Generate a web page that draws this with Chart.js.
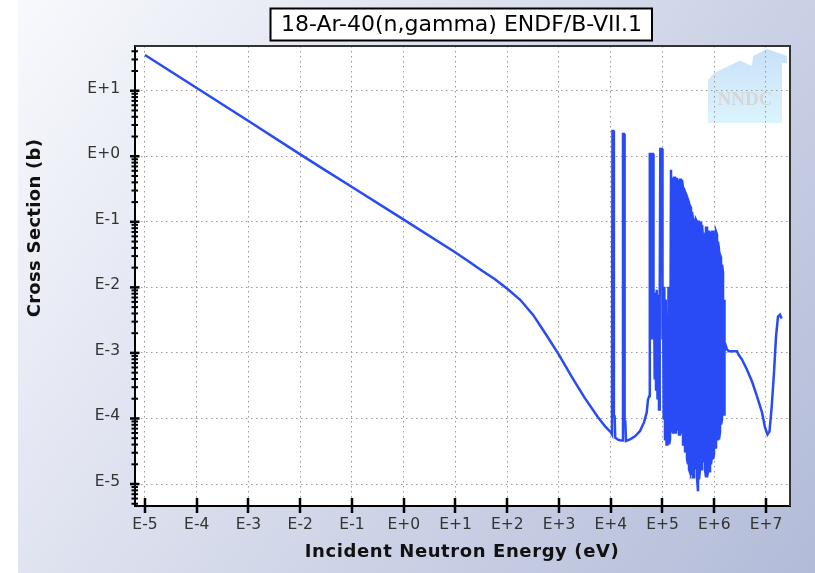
<!DOCTYPE html>
<html><head><meta charset="utf-8">
<script src="https://cdn.jsdelivr.net/npm/chart.js@4.4.1/dist/chart.umd.min.js"></script>
<style>html,body{margin:0;padding:0;background:#fff;overflow:hidden}#wrap{width:815px;height:573px}</style>
</head><body><div id="wrap"><canvas id="c" width="815" height="573"></canvas></div>
<script>
// Low-energy part: 1/v region, smooth fall-off and first resolved resonances (eV, b)
const energyEV = [
 1e-5, 1e-4, 1e-3, 1e-2, 2.53e-2, 1e-1, 1, 10, 17.8, 31.6, 56.2, 100, 178, 316, 562, 1000, 1778, 3162, 5623, 7943, 10000, 10570,
 10800, 11250, 11500, 11900, 12200, 13810, 15100, 16870, 17250, 18040, 18530, 19110, 19730, 23550, 29430, 36770, 43940, 49530, 52480,
 55600, 56850, 59980, 61330, 62700, 65550, 67030, 68550, 70720, 72640, 74930, 77300, 80100, 83000, 85620, 88330, 90720, 97860, 100070,
 102330, 105560, 108420, 111840, 115380, 119560, 125000, 130710, 134850, 139740, 146080, 149370, 154780
];
const crossSectionB = [
 35, 11, 3.45, 1.07, 0.67, 0.34, 0.108, 0.034, 0.0251, 0.0182, 0.0135, 0.00955, 0.00646, 0.0038, 0.00191, 9.33e-4, 4.27e-4, 2.04e-4, 1.05e-4, 7.41e-5, 6.17e-5, 5.7e-5,
 2.43, 2.43, 1.07e-4, 1.07e-4, 5.1e-5, 4.75e-5, 4.65e-5, 4.6e-5, 2.19, 2.19, 9.0e-5, 9.0e-5, 4.55e-5, 4.8e-5, 5.33e-5, 6.42e-5, 8.7e-5, 1.236e-4, 1.95e-4,
 2.2e-4, 1.087, 1.087, 0.0016, 1.087, 1.087, 0.0016, 0.0083, 3.93e-4, 0.0083, 2.77e-4, 0.0092, 1.95e-4, 0.0077, 1.37e-4, 0.0065, 1.295, 1.295, 0.0016,
 0.01025, 9.67e-5, 0.01025, 4.8e-5, 0.0065, 4.02e-5, 4.02e-5, 0.01025, 4.02e-5, 4.8e-5, 0.62, 0.62, 6.13e-5
];
// Unresolved dense resonance band: per-energy envelope maximum / minimum (eV, b)
const denseEnergyEV = [
 159600, 166870, 174470, 182410, 190710, 199390, 208470, 217960, 227880, 238250, 249100, 260440, 272290, 284690, 297650, 311200,
 325360, 340170, 355660, 371850, 388780, 406480, 424980, 444330, 464550, 485700, 507810, 530930, 555100, 580370, 606790, 634410,
 663290, 693480, 725050, 758060, 792570, 828640, 866360, 905800, 947030, 990140, 1035210, 1082330, 1131600, 1183110, 1236970,
 1293280, 1352150, 1413700, 1478050, 1545330
];
const denseMaxB = [
 0.4685, 0.4685, 0.4685, 0.393, 0.4685, 0.4367, 0.366, 0.4367, 0.4367, 0.4367, 0.330, 0.3075, 0.2768, 0.258, 0.2323, 0.2166,
 0.195, 0.1755, 0.1636, 0.1422, 0.1074, 0.1074, 0.1074, 0.1074, 0.1001, 0.1001, 0.1001, 0.0811, 0.1001, 0.0901, 0.0571, 0.0571,
 0.0635, 0.0811, 0.0811, 0.0705, 0.0705, 0.0447, 0.0705, 0.0705, 0.0705, 0.0705, 0.0705, 0.0705, 0.0635, 0.0497, 0.0375,
 0.0315, 0.02834, 0.02217, 0.01675, 0.0065
];
const denseMinB = [
 6.13e-5, 6.13e-5, 6.13e-5, 6.13e-5, 6.81e-5, 6.81e-5, 5.71e-5, 5.71e-5, 6.13e-5, 6.13e-5, 4.02e-5, 4.02e-5, 3.15e-5, 3.15e-5, 2.38e-5, 2.0e-5,
 1.675e-5, 1.508e-5, 1.508e-5, 1.675e-5, 1.265e-5, 1.265e-5, 2.0e-5, 1.675e-5, 1.265e-5, 7.74e-6, 1.18e-5, 1.675e-5, 1.675e-5, 1.675e-5, 2.22e-5, 2.22e-5,
 1.675e-5, 1.265e-5, 1.265e-5, 1.561e-5, 1.561e-5, 1.561e-5, 2.0e-5, 2.83e-5, 2.38e-5, 2.83e-5, 3.62e-5, 3.62e-5, 4.8e-5, 4.8e-5, 4.8e-5,
 6.35e-5, 8.11e-5, 9.67e-5, 1.152e-4, 1.152e-4
];
// High-energy smooth part (eV, b)
const highEnergyEV = [
 1.61e6, 1.765e6, 1.929e6, 2.753e6, 2.943e6, 3.44e6, 4.27e6, 5.37e6, 6.7e6, 8.375e6, 9.57e6, 1.07e7, 1.169e7, 1.29e7, 1.429e7,
 1.561e7, 1.706e7, 1.865e7, 2.0e7
];
const highCrossSectionB = [
 1.49e-3, 1.125e-3, 1.06e-3, 1.06e-3, 9.44e-4, 7.93e-4, 5.58e-4, 3.66e-4, 2.17e-4, 1.236e-4, 7.31e-5, 5.71e-5, 6.35e-5, 1.526e-4, 5.03e-4,
 1.775e-3, 3.58e-3, 3.84e-3, 3.34e-3
];
const xTickValues = [1e-5, 1e-4, 1e-3, 1e-2, 1e-1, 1, 10, 100, 1e3, 1e4, 1e5, 1e6, 1e7];
const xTickLabels = ['E-5','E-4','E-3','E-2','E-1','E+0','E+1','E+2','E+3','E+4','E+5','E+6','E+7'];
const yTickValues = [1e-5, 1e-4, 1e-3, 1e-2, 1e-1, 1, 10];
const yTickLabels = ['E-5','E-4','E-3','E-2','E-1','E+0','E+1'];
const chartTitle = '18-Ar-40(n,gamma) ENDF/B-VII.1';
const xAxisTitle = 'Incident Neutron Energy (eV)';
const yAxisTitle = 'Cross Section (b)';
const logoText = 'NNDC';

// build the point table the library needs
const points = energyEV.map((e, i) => ({x: e, y: crossSectionB[i]}));
denseEnergyEV.forEach((e, i) => {
  if (i % 2 === 0) { points.push({x: e, y: denseMaxB[i]}, {x: e, y: denseMinB[i]}); }
  else { points.push({x: e, y: denseMinB[i]}, {x: e, y: denseMaxB[i]}); }
});
highEnergyEV.forEach((e, i) => points.push({x: e, y: highCrossSectionB[i]}));

const deco = {
  id: 'deco',
  beforeDraw(chart) {
    const {ctx, chartArea: a, width, height} = chart;
    ctx.save();
    ctx.fillStyle = '#ffffff';
    ctx.fillRect(0, 0, width, height);
    const g = ctx.createLinearGradient(18, 0, 815, 573);
    g.addColorStop(0, '#f8f9fd');
    g.addColorStop(1, '#b2bbd8');
    ctx.fillStyle = g;
    ctx.fillRect(18, 0, width - 18, height);
    ctx.fillStyle = '#ffffff';
    ctx.fillRect(a.left, a.top, a.right - a.left, a.bottom - a.top);
    // faint NNDC logo
    const lg = ctx.createLinearGradient(0, 50, 0, 124);
    lg.addColorStop(0, '#c9e1f8');
    lg.addColorStop(1, '#dcf4fd');
    ctx.fillStyle = lg;
    ctx.beginPath();
    ctx.moveTo(708, 123); ctx.lineTo(708, 80); ctx.lineTo(714, 73); ctx.lineTo(740, 60.5);
    ctx.lineTo(752, 66); ctx.lineTo(753, 56); ctx.lineTo(767, 49); ctx.lineTo(787, 56);
    ctx.lineTo(787, 63); ctx.lineTo(782, 63); ctx.lineTo(782, 123); ctx.closePath();
    ctx.fill();
    ctx.fillStyle = '#d6d6d6';
    ctx.font = 'bold 19px "Liberation Serif"';
    ctx.textAlign = 'center'; ctx.textBaseline = 'alphabetic';
    ctx.fillText(logoText, 745, 105);
    ctx.restore();
  },
  afterDraw(chart) {
    const {ctx, chartArea: a} = chart;
    const xs = chart.scales.x, ys = chart.scales.y;
    ctx.save();
    ctx.strokeStyle = '#333'; ctx.lineWidth = 2;
    ctx.beginPath(); ctx.moveTo(a.left, a.top); ctx.lineTo(a.right, a.top); ctx.lineTo(a.right, a.bottom); ctx.stroke();
    ctx.strokeStyle = '#000'; ctx.lineWidth = 2.5;
    xTickValues.forEach(v => {
      const px = Math.round(xs.getPixelForValue(v));
      ctx.beginPath(); ctx.moveTo(px, a.bottom - 8); ctx.lineTo(px, a.bottom + 7); ctx.stroke();
    });
    for (let k = -6; k <= 1; k++) {
      for (let m = 1; m <= 9; m++) {
        const v = m * Math.pow(10, k);
        if (v < ys.min || v > ys.max) continue;
        const py = ys.getPixelForValue(v);
        ctx.lineWidth = m === 1 ? 2.5 : 2;
        ctx.beginPath();
        if (m === 1) { ctx.moveTo(a.left - 5, py); ctx.lineTo(a.left + 4.5, py); }
        else { ctx.moveTo(a.left - 3.5, py); ctx.lineTo(a.left + 3, py); }
        ctx.stroke();
      }
    }
    ctx.fillStyle = '#fff';
    ctx.fillRect(270.5, 8.5, 381.5, 32);
    ctx.strokeStyle = '#000'; ctx.lineWidth = 2;
    ctx.strokeRect(270.5, 8.5, 381.5, 32);
    ctx.fillStyle = '#000';
    ctx.font = '22px "DejaVu Sans"';
    ctx.textAlign = 'center'; ctx.textBaseline = 'alphabetic';
    ctx.fillText(chartTitle, 461.5, 31);
    ctx.fillStyle = '#111';
    ctx.font = 'bold 18px "DejaVu Sans"';
    ctx.letterSpacing = '0.6px';
    ctx.fillText(xAxisTitle, 462, 557);
    ctx.letterSpacing = '0.3px';
    ctx.translate(39.5, 228);
    ctx.rotate(-Math.PI / 2);
    ctx.fillText(yAxisTitle, 0, 0);
    ctx.restore();
  }
};

new Chart(document.getElementById('c'), {
  type: 'line',
  data: { datasets: [{
    data: points,
    borderColor: 'rgb(40,75,245)', borderWidth: 2.5, pointRadius: 0, tension: 0, fill: false
  }]},
  options: {
    responsive: false, animation: false, devicePixelRatio: 1,
    layout: { padding: { left: 0, top: 46, right: 25, bottom: 0 } },
    plugins: { legend: { display: false }, tooltip: { enabled: false }, title: { display: false } },
    scales: {
      x: {
        type: 'logarithmic', min: 6.41e-6, max: 2.91e7,
        afterBuildTicks: s => { s.ticks = xTickValues.map(v => ({value: v})); },
        afterFit: s => { s.height = 67; },
        ticks: { callback: (v, i) => xTickLabels[i], autoSkip: false, maxRotation: 0, minRotation: 0,
                 font: { family: 'DejaVu Sans', size: 15.5 }, color: '#333', padding: 10 },
        grid: { color: '#999', lineWidth: 1, drawTicks: false },
        border: { display: true, color: '#000', width: 2, dash: [1.5, 3.5] }
      },
      y: {
        type: 'logarithmic', min: 4.62e-6, max: 48.1,
        afterBuildTicks: s => { s.ticks = yTickValues.map(v => ({value: v})); },
        afterFit: s => { s.width = 135; },
        ticks: { callback: (v, i) => yTickLabels[i], autoSkip: false,
                 font: { family: 'DejaVu Sans', size: 15.5 }, color: '#333', padding: 15, labelOffset: -2 },
        grid: { color: '#999', lineWidth: 1, drawTicks: false },
        border: { display: true, color: '#000', width: 2, dash: [1.5, 3.5] }
      }
    }
  },
  plugins: [deco]
});
</script></body></html>
